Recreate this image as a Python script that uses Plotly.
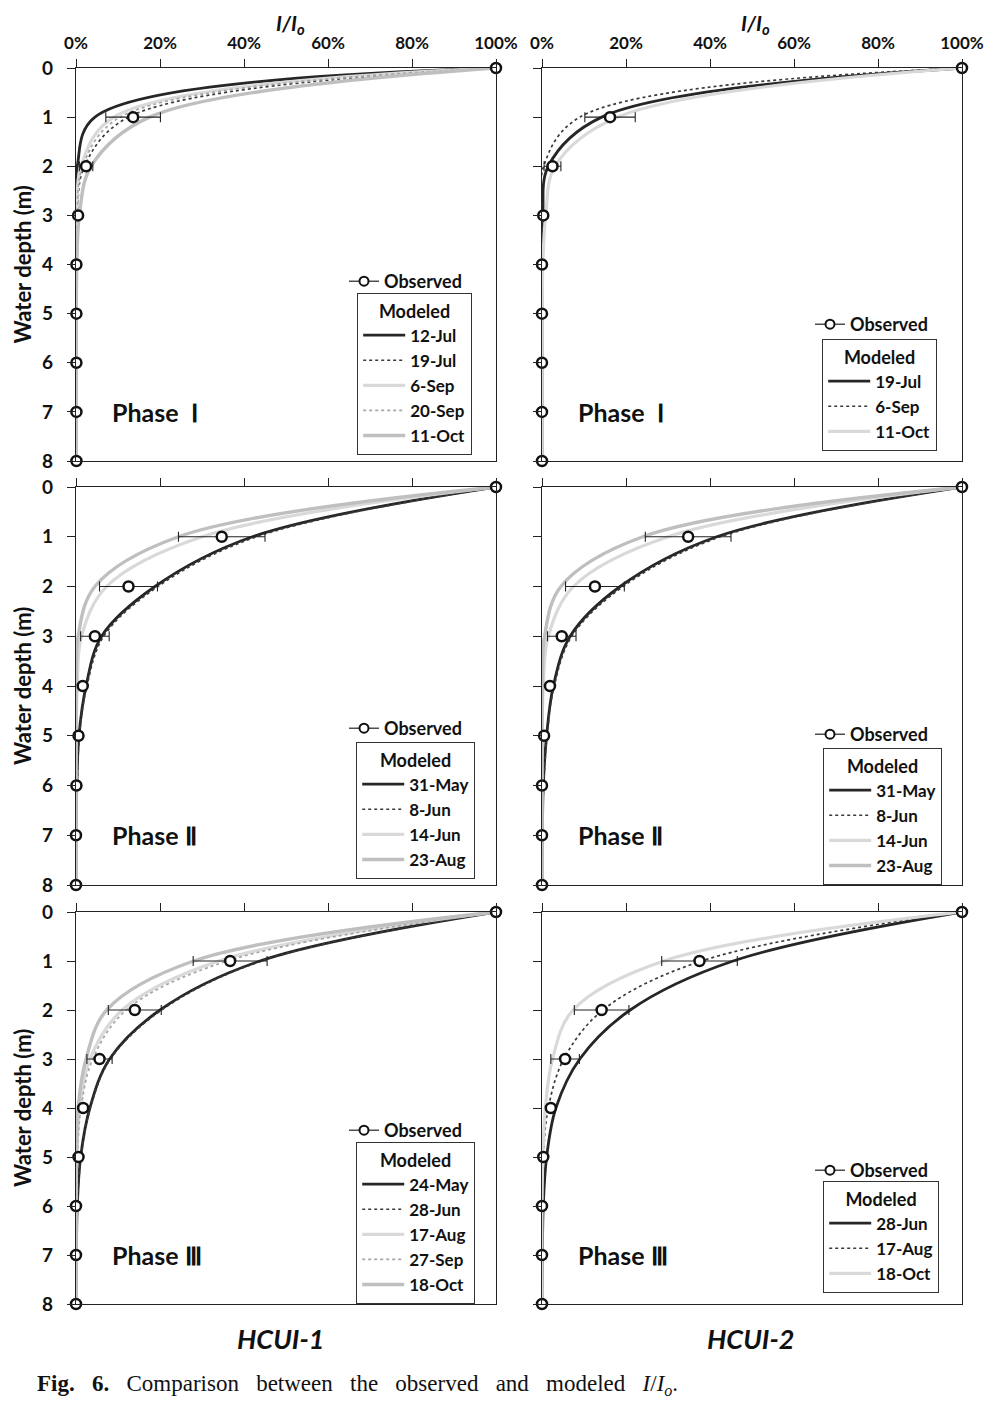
import plotly.graph_objects as go

# depths (m) and x tick labels
DEPTH = [0, 1, 2, 3, 4, 5, 6, 7, 8]
PCT_TICKS = [0, 20, 40, 60, 80, 100]
PCT_LABELS = ["0%", "20%", "40%", "60%", "80%", "100%"]

# ---- HCUI-1, Phase I ----
h1_p1_obs = [100, 13.6, 2.4, 0.5, 0.1, 0.1, 0.1, 0.1, 0.1]
h1_p1_err = [0, 6.5, 1.6, 0, 0, 0, 0, 0, 0]
h1_p1_dates = ["12-Jul", "19-Jul", "6-Sep", "20-Sep", "11-Oct"]
h1_p1_jul12 = [100, 4.5, 0.3, 0.02, 0, 0, 0, 0, 0]
h1_p1_jul19 = [100, 12.5, 2.0, 0.3, 0.05, 0, 0, 0, 0]
h1_p1_sep06 = [100, 9.0, 1.2, 0.2, 0.03, 0, 0, 0, 0]
h1_p1_sep20 = [100, 10.5, 1.6, 0.25, 0.04, 0, 0, 0, 0]
h1_p1_oct11 = [100, 17.5, 3.6, 0.8, 0.2, 0.05, 0.01, 0, 0]

# ---- HCUI-2, Phase I ----
h2_p1_obs = [100, 16.2, 2.5, 0.3, 0.0, 0.0, 0.0, 0.0, 0.0]
h2_p1_err = [0, 6.0, 2.0, 0, 0, 0, 0, 0, 0]
h2_p1_dates = ["19-Jul", "6-Sep", "11-Oct"]
h2_p1_jul19 = [100, 14.2, 1.5, 0.2, 0.03, 0, 0, 0, 0]
h2_p1_sep06 = [100, 9.0, 0.4, 0.02, 0, 0, 0, 0, 0]
h2_p1_oct11 = [100, 18.0, 3.1, 0.9, 0.2, 0.04, 0, 0, 0]

# ---- HCUI-1, Phase II ----
h1_p2_obs = [100, 34.7, 12.5, 4.5, 1.6, 0.6, 0.1, 0.0, 0.0]
h1_p2_err = [0, 10.3, 6.9, 3.4, 0, 0, 0, 0, 0]
h1_p2_dates = ["31-May", "8-Jun", "14-Jun", "23-Aug"]
h1_p2_may31 = [100, 42.0, 18.8, 6.1, 2.4, 0.7, 0.2, 0.05, 0]
h1_p2_jun08 = [100, 43.0, 19.5, 6.6, 2.6, 0.8, 0.3, 0.1, 0]
h1_p2_jun14 = [100, 30.0, 7.3, 1.3, 0.3, 0.05, 0, 0, 0]
h1_p2_aug23 = [100, 24.4, 4.5, 0.5, 0.1, 0, 0, 0, 0]

# ---- HCUI-2, Phase II ----
h2_p2_obs = [100, 34.8, 12.6, 4.7, 1.9, 0.5, 0.0, 0.0, 0.0]
h2_p2_err = [0, 10.2, 7.0, 3.4, 0, 0, 0, 0, 0]
h2_p2_dates = ["31-May", "8-Jun", "14-Jun", "23-Aug"]
h2_p2_may31 = [100, 41.6, 18.6, 6.7, 2.7, 1.1, 0.3, 0.1, 0]
h2_p2_jun08 = [100, 42.5, 19.3, 7.1, 2.9, 1.2, 0.4, 0.1, 0]
h2_p2_jun14 = [100, 30.0, 7.5, 1.5, 0.3, 0.05, 0, 0, 0]
h2_p2_aug23 = [100, 24.0, 4.5, 0.6, 0.1, 0, 0, 0, 0]

# ---- HCUI-1, Phase III ----
h1_p3_obs = [100, 36.7, 14.0, 5.6, 1.7, 0.6, 0.0, 0.0, 0.0]
h1_p3_err = [0, 8.8, 6.3, 3.0, 0, 0, 0, 0, 0]
h1_p3_dates = ["24-May", "28-Jun", "17-Aug", "27-Sep", "18-Oct"]
h1_p3_may24 = [100, 43.8, 20.0, 8.0, 3.3, 1.1, 0.3, 0.1, 0]
h1_p3_jun28 = [100, 44.2, 20.4, 8.2, 3.4, 1.2, 0.3, 0.1, 0]
h1_p3_aug17 = [100, 34.0, 11.0, 3.3, 0.9, 0.2, 0.05, 0, 0]
h1_p3_sep27 = [100, 36.0, 12.0, 4.0, 1.2, 0.3, 0.05, 0, 0]
h1_p3_oct18 = [100, 28.0, 7.3, 2.4, 0.5, 0.1, 0, 0, 0]

# ---- HCUI-2, Phase III ----
h2_p3_obs = [100, 37.5, 14.2, 5.5, 2.1, 0.3, 0.0, 0.0, 0.0]
h2_p3_err = [0, 9.0, 6.5, 3.4, 0, 0, 0, 0, 0]
h2_p3_dates = ["28-Jun", "17-Aug", "18-Oct"]
h2_p3_jun28 = [100, 45.5, 21.0, 9.0, 3.3, 1.1, 0.3, 0.1, 0]
h2_p3_aug17 = [100, 38.0, 14.5, 5.2, 1.5, 0.3, 0.05, 0, 0]
h2_p3_oct18 = [100, 29.0, 7.4, 2.5, 0.8, 0.2, 0, 0, 0]

# line looks
STYLE = {
    "black": dict(color="#262626", width=2.8, dash="solid"),
    "dkdot": dict(color="#3a3a3a", width=1.7, dash="dot"),
    "light": dict(color="#d9d9d9", width=3.2, dash="solid"),
    "grdot": dict(color="#a6a6a6", width=1.7, dash="dot"),
    "gray": dict(color="#bfbfbf", width=3.4, dash="solid"),
}

panels = [
    # (row, col, phase, obs, err, dates, series, styles)
    (1, 1, "Phase  Ⅰ", h1_p1_obs, h1_p1_err, h1_p1_dates,
     [h1_p1_jul12, h1_p1_jul19, h1_p1_sep06, h1_p1_sep20, h1_p1_oct11],
     ["black", "dkdot", "light", "grdot", "gray"]),
    (1, 2, "Phase  Ⅰ", h2_p1_obs, h2_p1_err, h2_p1_dates,
     [h2_p1_jul19, h2_p1_sep06, h2_p1_oct11],
     ["black", "dkdot", "light"]),
    (2, 1, "Phase Ⅱ", h1_p2_obs, h1_p2_err, h1_p2_dates,
     [h1_p2_may31, h1_p2_jun08, h1_p2_jun14, h1_p2_aug23],
     ["black", "dkdot", "light", "gray"]),
    (2, 2, "Phase Ⅱ", h2_p2_obs, h2_p2_err, h2_p2_dates,
     [h2_p2_may31, h2_p2_jun08, h2_p2_jun14, h2_p2_aug23],
     ["black", "dkdot", "light", "gray"]),
    (3, 1, "Phase Ⅲ", h1_p3_obs, h1_p3_err, h1_p3_dates,
     [h1_p3_may24, h1_p3_jun28, h1_p3_aug17, h1_p3_sep27, h1_p3_oct18],
     ["black", "dkdot", "light", "grdot", "gray"]),
    (3, 2, "Phase Ⅲ", h2_p3_obs, h2_p3_err, h2_p3_dates,
     [h2_p3_jun28, h2_p3_aug17, h2_p3_oct18],
     ["black", "dkdot", "light"]),
]

W, H = 1007, 1401
# pixel boxes of the plot areas
XDOM = {1: (76, 496), 2: (542, 962)}
YDOM = {1: (68, 461), 2: (487, 885), 3: (912, 1304)}
# legend placement in px: (observed legend left, top, modeled box left, top)
LEG = {
    (1, 1): (344, 263, 357, 293),
    (1, 2): (810, 306, 822, 339),
    (2, 1): (344, 710, 356, 742),
    (2, 2): (810, 716, 823, 748),
    (3, 1): (344, 1112, 356, 1142),
    (3, 2): (810, 1152, 823, 1181),
}

FONT = "Lato, 'Open Sans', sans-serif"

fig = go.Figure()
annotations = []
for i, (r, c, phase, obs, err, dates, series, styles) in enumerate(panels):
    n = i + 1
    xa = "x" if n == 1 else f"x{n}"
    ya = "y" if n == 1 else f"y{n}"
    leg_mod = "legend" if n == 1 else f"legend{n}"
    leg_obs = f"legend{n + 6}"

    for name, vals, st in zip(dates, series, styles):
        fig.add_trace(go.Scatter(
            x=vals, y=DEPTH, mode="lines", name=name,
            line=dict(color=STYLE[st]["color"], width=STYLE[st]["width"],
                      dash=STYLE[st]["dash"], shape="spline", smoothing=1.0),
            xaxis=xa, yaxis=ya, legend=leg_mod, cliponaxis=False,
        ))

    fig.add_trace(go.Scatter(
        x=obs, y=DEPTH, mode="markers", name="Observed", showlegend=False,
        marker=dict(symbol="circle", size=10, color="white",
                    line=dict(color="#111", width=2.5)),
        error_x=dict(type="data", array=err, visible=True, color="#222",
                     thickness=1.1, width=5),
        xaxis=xa, yaxis=ya, cliponaxis=False,
    ))
    # legend entry for observed
    fig.add_trace(go.Scatter(
        x=[None], y=[None], mode="lines+markers", name="Observed",
        marker=dict(symbol="circle", size=9, color="white",
                    line=dict(color="#111", width=2)),
        line=dict(color="#222", width=1.2),
        xaxis=xa, yaxis=ya, legend=leg_obs,
    ))

    x0, x1 = XDOM[c]
    y0, y1 = YDOM[r]
    fig.layout[("xaxis" if n == 1 else f"xaxis{n}")] = dict(
        domain=[x0 / W, x1 / W], anchor=ya, range=[0, 100], side="top",
        showline=True, linecolor="#222", linewidth=1.2, mirror=True,
        ticks="outside", ticklen=8, tickcolor="#222", ticklabelstandoff=3,
        tickvals=PCT_TICKS, ticktext=PCT_LABELS, showticklabels=(r == 1),
        tickfont=dict(family=FONT, size=17, color="#111", weight="bold"),
        showgrid=False, zeroline=False, automargin=False,
    )
    fig.layout[("yaxis" if n == 1 else f"yaxis{n}")] = dict(
        domain=[1 - y1 / H, 1 - y0 / H], anchor=xa, range=[8, 0],
        tickvals=DEPTH, showline=True, linecolor="#222", linewidth=1.2,
        mirror=True, ticks="outside", ticklen=8, tickcolor="#222",
        ticklabelstandoff=10, showticklabels=(c == 1),
        tickfont=dict(family=FONT, size=19, color="#111", weight="bold"),
        showgrid=False, zeroline=False, automargin=False,
    )

    ox, oy, bx, by = LEG[(r, c)]
    fig.layout[leg_mod] = dict(
        x=bx / W, y=1 - by / H, xanchor="left", yanchor="top",
        bordercolor="#333", borderwidth=1.2, bgcolor="white",
        font=dict(family=FONT, size=17, color="#111", weight="bold"),
        title=dict(text="Modeled", side="top center",
                   font=dict(family=FONT, size=18, color="#111", weight="bold")),
        tracegroupgap=0, itemwidth=42, itemclick=False,
    )
    fig.layout[leg_obs] = dict(
        x=ox / W, y=1 - oy / H, xanchor="left", yanchor="top",
        borderwidth=0, bgcolor="rgba(0,0,0,0)",
        font=dict(family=FONT, size=18, color="#111", weight="bold"),
        itemclick=False,
    )

    annotations.append(dict(
        text=phase, x=8, y=7, xref=xa, yref=ya, xanchor="left", yanchor="middle",
        showarrow=False, font=dict(family=FONT, size=25, color="#111", weight="bold"),
    ))
    if c == 1:
        annotations.append(dict(
            text="<b>Water depth (m)</b>", x=22 / W, y=1 - (y0 + y1) / 2 / H,
            xref="paper", yref="paper", xanchor="center", yanchor="middle",
            textangle=-90, showarrow=False,
            font=dict(family=FONT, size=22, color="#111"),
        ))

# top titles, column labels and caption
for xc in (290, 755):
    annotations.append(dict(
        text="<b><i>I/I<sub>o</sub></i></b>", x=xc / W, y=1 - 24 / H,
        xref="paper", yref="paper", xanchor="center", yanchor="middle",
        showarrow=False, font=dict(family=FONT, size=21, color="#111"),
    ))
for xc, lab in ((280, "HCUI-1"), (750, "HCUI-2")):
    annotations.append(dict(
        text=f"<b><i>{lab}</i></b>", x=xc / W, y=1 - 1338 / H,
        xref="paper", yref="paper", xanchor="center", yanchor="middle",
        showarrow=False, font=dict(family=FONT, size=27, color="#111"),
    ))
annotations.append(dict(
    text=("<b>Fig.   6.</b>   Comparison   between   the   observed   and   modeled   "
          "<i>I</i>/<i>I<sub>o</sub></i>."),
    x=35 / W, y=1 - 1385 / H, xref="paper", yref="paper", xanchor="left",
    yanchor="middle", showarrow=False,
    font=dict(family="Liberation Serif, serif", size=23, color="#111"),
))

fig.update_layout(
    width=W, height=H, margin=dict(l=0, r=0, t=0, b=0),
    paper_bgcolor="white", plot_bgcolor="white",
    annotations=annotations,
)

fig.write_html("out.html", config={"displayModeBar": False},
               post_script="document.body.style.margin = '0px';")
